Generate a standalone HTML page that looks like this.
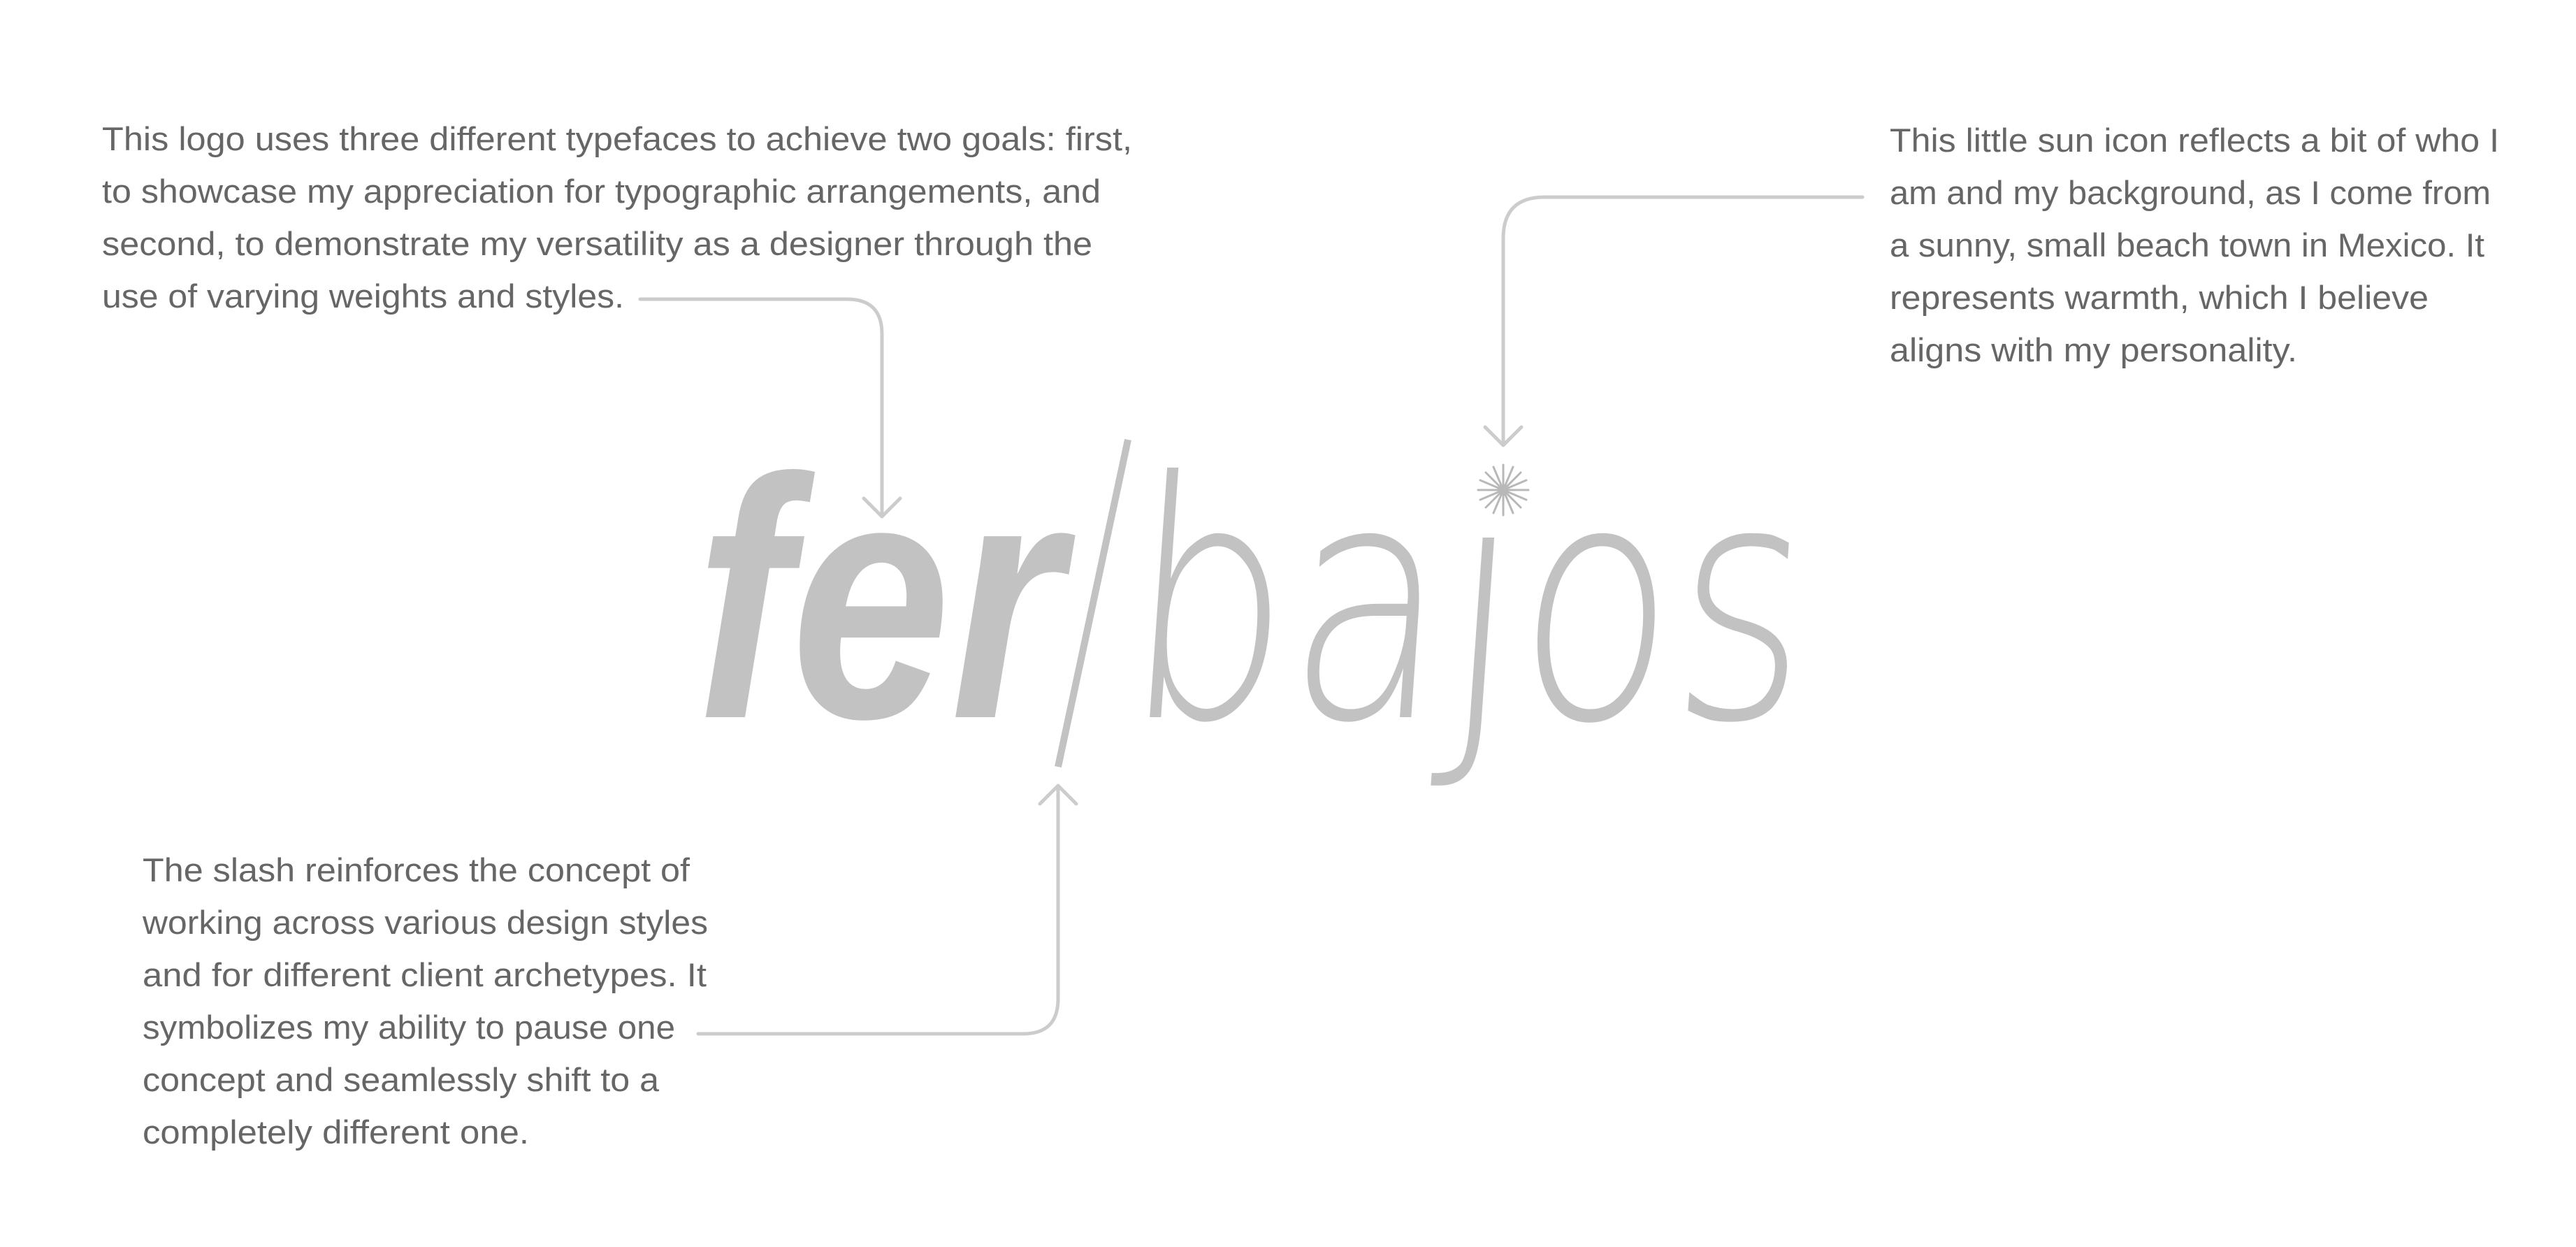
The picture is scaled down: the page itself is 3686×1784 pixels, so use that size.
<!DOCTYPE html>
<html><head><meta charset="utf-8"><style>
html,body{margin:0;padding:0;background:#fff;}
svg{display:block;}
.t{font-family:"Liberation Sans",sans-serif;font-size:47px;fill:#666;}
</style></head><body>
<svg width="3686" height="1784" viewBox="0 0 3686 1784" xmlns="http://www.w3.org/2000/svg">
<rect width="3686" height="1784" fill="#fff"/>
<g class="t">
<text x="146" y="215" textLength="1474" lengthAdjust="spacingAndGlyphs">This logo uses three different typefaces to achieve two goals: first,</text>
<text x="146" y="290" textLength="1429" lengthAdjust="spacingAndGlyphs">to showcase my appreciation for typographic arrangements, and</text>
<text x="146" y="365" textLength="1417" lengthAdjust="spacingAndGlyphs">second, to demonstrate my versatility as a designer through the</text>
<text x="146" y="440" textLength="747" lengthAdjust="spacingAndGlyphs">use of varying weights and styles.</text>

<text x="2704" y="217" textLength="872" lengthAdjust="spacingAndGlyphs">This little sun icon reflects a bit of who I</text>
<text x="2704" y="292" textLength="860" lengthAdjust="spacingAndGlyphs">am and my background, as I come from</text>
<text x="2704" y="367" textLength="851" lengthAdjust="spacingAndGlyphs">a sunny, small beach town in Mexico. It</text>
<text x="2704" y="442" textLength="771" lengthAdjust="spacingAndGlyphs">represents warmth, which I believe</text>
<text x="2704" y="517" textLength="583" lengthAdjust="spacingAndGlyphs">aligns with my personality.</text>

<text x="204" y="1261" textLength="783" lengthAdjust="spacingAndGlyphs">The slash reinforces the concept of</text>
<text x="204" y="1336" textLength="809" lengthAdjust="spacingAndGlyphs">working across various design styles</text>
<text x="204" y="1411" textLength="807" lengthAdjust="spacingAndGlyphs">and for different client archetypes. It</text>
<text x="204" y="1486" textLength="762" lengthAdjust="spacingAndGlyphs">symbolizes my ability to pause one</text>
<text x="204" y="1561" textLength="739" lengthAdjust="spacingAndGlyphs">concept and seamlessly shift to a</text>
<text x="204" y="1636" textLength="553" lengthAdjust="spacingAndGlyphs">completely different one.</text>
</g>

<g fill="#c2c2c2">
<text x="995" y="1026" font-family="Liberation Sans,sans-serif" font-weight="bold" font-style="italic" font-size="490" textLength="525" lengthAdjust="spacingAndGlyphs">fer</text>
<g transform="translate(72,0) skewX(-4)">
<text x="1603" y="1026" font-family="DejaVu Sans,sans-serif" font-weight="200" font-size="470" textLength="975" lengthAdjust="spacingAndGlyphs">bajos</text>
</g>
</g>
<rect x="2085" y="630" width="120" height="118" fill="#fff"/>
<line x1="1614" y1="629" x2="1514" y2="1097" stroke="#c2c2c2" stroke-width="10"/>

<g fill="none" stroke="#cccccc" stroke-width="5" stroke-linecap="round" stroke-linejoin="round">
<path d="M916 428 H1212 Q1262 428 1262 478 V739"/>
<path d="M1236 713 L1262 739 L1288 713"/>
<path d="M2665 282 H2210 Q2151 282 2151 341 V637"/>
<path d="M2125 611 L2151 637 L2177 611"/>
<path d="M999 1479 H1464 Q1514 1479 1514 1429 V1124"/>
<path d="M1488 1150 L1514 1124 L1540 1150"/>
</g>

<g stroke="#b8b8b8" stroke-width="3" stroke-linecap="round">
<line x1="2151" y1="665" x2="2151" y2="737"/>
<line x1="2115" y1="701" x2="2187" y2="701"/>
<line x1="2126" y1="676" x2="2176" y2="726"/>
<line x1="2176" y1="676" x2="2126" y2="726"/>
<line x1="2137" y1="668" x2="2165" y2="734"/>
<line x1="2165" y1="668" x2="2137" y2="734"/>
<line x1="2118" y1="687" x2="2184" y2="715"/>
<line x1="2184" y1="687" x2="2118" y2="715"/>
</g>
</svg>
</body></html>
